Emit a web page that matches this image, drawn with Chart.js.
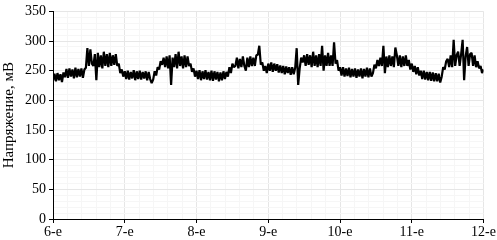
<!DOCTYPE html>
<html>
<head>
<meta charset="utf-8">
<script src="https://cdn.jsdelivr.net/npm/chart.js@4.4.0/dist/chart.umd.min.js"></script>
<style>
  html, body { margin: 0; padding: 0; background: #fff; }
  #wrap { width: 497px; height: 240px; }
</style>
</head>
<body>
<div id="wrap"><canvas id="voltChart"></canvas></div>
<script>
// показания по дням, шаг 30 минут (48 значений в сутки)
const day6 = [233,245,232,246,234,244,231,247,
  239,253,238,254,240,252,237,255,239,253,240,254,238,252,
  255,288,258,286,262,
  258,278,234,280,256,276,254,282,258,278,256,280,258,276,260,278,
  258,262,246,252,240];
const day7 = [249,236,250,235,248,237,251,234,249,236,250,235,248,237,249,234,248,236,229,235,249,
  242,256,252,266,260,272,
  256,274,254,276,226,272,256,278,254,282,258,274,254,276,256,274,258,
  262,248,254,240];
const day8 = [250,236,251,234,249,236,251,235,248,234,250,233,249,235,248,232,247,234,249,236,248,
  240,256,246,262,256,
  258,272,254,270,256,274,258,250,272,256,274,258,272,258,276,
  277,292,
  260,264,250,258,246];
const day9 = [262,250,264,248,262,250,261,247,259,246,258,244,257,246,256,243,256,244,255,
  288,226,
  254,272,264,276,258,278,260,276,256,282,258,276,256,278,258,292,250,276,258,280,258,276,258,298,262,268,250];
const day10 = [256,242,256,240,254,241,255,239,253,240,254,238,252,240,254,237,253,240,255,239,254,240,
  246,260,254,268,258,
  272,258,292,246,274,256,276,258,274,256,289,276,258,276,256,274,258,276,258,268,
  252];
const day11 = [262,248,258,244,256,242,
  250,236,250,235,248,234,248,233,247,232,246,232,245,
  230,
  240,256,252,266,
  270,256,276,256,302,258,276,282,258,278,302,234,274,290,258,278,280,258,276,256,266,254,258,246];
const lastValue = 252;

const days = [6, 7, 8, 9, 10, 11];
const dayValues = [day6, day7, day8, day9, day10, day11];
const yTicks = [0, 50, 100, 150, 200, 250, 300, 350];

const points = [];
dayValues.forEach(function(vals, d) {
  vals.forEach(function(v, i) {
    points.push({ x: days[d] + i / vals.length, y: v });
  });
});
points.push({ x: 12, y: lastValue });

const isDay = v => Math.abs(v - Math.round(v)) < 1e-6;
const font = { family: '"Liberation Serif", "Times New Roman", serif', size: 14 };

const ctx = document.getElementById('voltChart').getContext('2d');
new Chart(ctx, {
  type: 'line',
  data: {
    datasets: [{
      data: points,
      borderColor: '#000',
      borderWidth: 2.2,
      borderJoinStyle: 'bevel',
      pointRadius: 0,
      tension: 0,
      fill: false
    }]
  },
  options: {
    responsive: true,
    maintainAspectRatio: false,
    animation: false,
    layout: { autoPadding: false, padding: { top: 6, right: 9, left: 0, bottom: 0 } },
    plugins: { legend: { display: false }, tooltip: { enabled: false } },
    scales: {
      x: {
        type: 'linear',
        min: 6,
        max: 12,
        afterFit: s => { s.height = 21; },
        ticks: {
          stepSize: 0.2,
          autoSkip: false,
          maxRotation: 0,
          padding: 1,
          color: '#000',
          font: font,
          callback: v => isDay(v) ? Math.round(v) + '-е' : ''
        },
        grid: {
          color: c => isDay(c.tick.value) ? '#e6e6e6' : '#f6f6f6',
          tickColor: c => isDay(c.tick.value) ? '#000' : 'rgba(0,0,0,0)',
          tickLength: 4
        },
        border: { color: '#000', width: 1 }
      },
      y: {
        min: 0,
        max: 350,
        afterFit: s => { s.width = 53; },
        ticks: {
          stepSize: 10,
          autoSkip: false,
          padding: 3,
          color: '#000',
          font: font,
          callback: v => yTicks.includes(v) ? v : ''
        },
        grid: {
          color: c => yTicks.includes(c.tick.value) ? '#e6e6e6' : '#f6f6f6',
          tickColor: c => yTicks.includes(c.tick.value) ? '#000' : 'rgba(0,0,0,0)',
          tickLength: 4
        },
        border: { color: '#000', width: 1 },
        title: {
          display: true,
          text: 'Напряжение, мВ',
          color: '#000',
          font: { family: font.family, size: 15 },
          padding: 0
        }
      }
    }
  }
});
</script>
</body>
</html>
